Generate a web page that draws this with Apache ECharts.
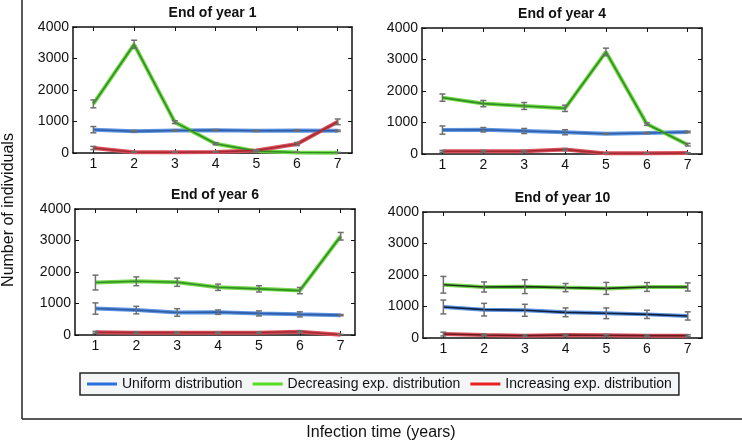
<!DOCTYPE html>
<html>
<head>
<meta charset="utf-8">
<script src="https://cdn.jsdelivr.net/npm/echarts@6/dist/echarts.min.js"></script>
<style>
html,body{margin:0;padding:0;background:#fff;}
#chart{width:742px;height:444px;}
</style>
</head>
<body>
<div id="chart"></div>
<script>
// ---------- data ----------
const categories = [1, 2, 3, 4, 5, 6, 7];
const yTicks = [0, 1000, 2000, 3000, 4000];
const panelTitles = ['End of year 1', 'End of year 4', 'End of year 6', 'End of year 10'];
const seriesNames = ['Uniform distribution', 'Decreasing exp. distribution', 'Increasing exp. distribution'];
const xTitle = 'Infection time (years)';
const yTitle = 'Number of individuals';

// End of year 1
const year1Uniform = [740, 690, 715, 725, 705, 715, 705];
const year1UniformErr = [100, 25, 20, 20, 20, 20, 25];
const year1Decreasing = [1560, 3450, 980, 295, 60, 15, 10];
const year1DecreasingErr = [125, 130, 45, 35, 20, 10, 10];
const year1Increasing = [160, 25, 25, 35, 80, 285, 990];
const year1IncreasingErr = [50, 10, 10, 10, 20, 50, 90];

// End of year 4
const year4Uniform = [760, 770, 730, 690, 645, 665, 700];
const year4UniformErr = [130, 70, 80, 80, 15, 20, 25];
const year4Decreasing = [1790, 1600, 1525, 1450, 3240, 950, 295];
const year4DecreasingErr = [115, 100, 110, 100, 120, 40, 40];
const year4Increasing = [85, 85, 85, 140, 20, 20, 30];
const year4IncreasingErr = [30, 30, 30, 30, 10, 10, 10];

// End of year 6
const year6Uniform = [840, 790, 715, 725, 685, 655, 630];
const year6UniformErr = [180, 120, 120, 70, 80, 80, 20];
const year6Decreasing = [1665, 1705, 1675, 1515, 1465, 1410, 3135];
const year6DecreasingErr = [235, 140, 130, 100, 100, 100, 120];
const year6Increasing = [85, 75, 75, 75, 75, 105, 10];
const year6IncreasingErr = [30, 30, 20, 20, 20, 30, 10];

// End of year 10
const year10Uniform = [985, 900, 880, 815, 785, 750, 700];
const year10UniformErr = [220, 200, 190, 140, 170, 130, 130];
const year10Decreasing = [1690, 1620, 1630, 1600, 1575, 1620, 1620];
const year10DecreasingErr = [265, 160, 220, 130, 190, 140, 130];
const year10Increasing = [125, 95, 75, 95, 85, 75, 75];
const year10IncreasingErr = [60, 30, 30, 30, 30, 30, 30];

// ---------- build ----------
const panels = [
  [[year1Uniform, year1UniformErr], [year1Decreasing, year1DecreasingErr], [year1Increasing, year1IncreasingErr]],
  [[year4Uniform, year4UniformErr], [year4Decreasing, year4DecreasingErr], [year4Increasing, year4IncreasingErr]],
  [[year6Uniform, year6UniformErr], [year6Decreasing, year6DecreasingErr], [year6Increasing, year6IncreasingErr]],
  [[year10Uniform, year10UniformErr], [year10Decreasing, year10DecreasingErr], [year10Increasing, year10IncreasingErr]]
];

const legendColors = ['#2a6fdb', '#55dd22', '#e82020'];
const haloColors = ['#5d95e2', '#74d94a', '#d9505a'];
const innerColors = [
  ['#2f5da8', '#2f8f22', '#a52a34'],
  ['#2f5da8', '#2f8f22', '#a52a34'],
  ['#2f5da8', '#2f8f22', '#a52a34'],
  ['#0f1f3f', '#1d3318', '#6a1a20']
];

const grids = [
  {left: 73, top: 27, width: 279, height: 126},
  {left: 422, top: 28, width: 280, height: 126},
  {left: 75, top: 209, width: 280, height: 126},
  {left: 423, top: 212, width: 279, height: 126}
];

const FONT = '"Liberation Sans", Arial, sans-serif';
const axisLine = {show: true, onZero: false, lineStyle: {color: '#111', width: 1.5}};
const tickStyle = {show: true, inside: true, length: 4, lineStyle: {color: '#111', width: 1}};

const xAxes = [], yAxes = [], series = [], graphics = [];

grids.forEach((g, i) => {
  xAxes.push({
    type: 'value', gridIndex: i, position: 'bottom', min: 0.5, max: 7.35,
    axisLine: axisLine, splitLine: {show: false},
    axisTick: Object.assign({}, tickStyle, {customValues: categories}),
    axisLabel: {customValues: categories, fontSize: 14, color: '#111', margin: 4, fontFamily: FONT,
      formatter: v => String(v)}
  });
  xAxes.push({
    type: 'value', gridIndex: i, position: 'top', min: 0.5, max: 7.35,
    axisLine: axisLine, splitLine: {show: false},
    axisTick: Object.assign({}, tickStyle, {customValues: categories}),
    axisLabel: {show: false}
  });
  yAxes.push({
    type: 'value', gridIndex: i, position: 'left', min: yTicks[0], max: yTicks[yTicks.length - 1], interval: 1000,
    axisLine: axisLine, splitLine: {show: false}, axisTick: tickStyle,
    axisLabel: {fontSize: 14, color: '#111', margin: 4, fontFamily: FONT, formatter: v => String(v)}
  });
  yAxes.push({
    type: 'value', gridIndex: i, position: 'right', min: yTicks[0], max: yTicks[yTicks.length - 1], interval: 1000,
    axisLine: axisLine, splitLine: {show: false}, axisTick: tickStyle,
    axisLabel: {show: false}
  });

  panels[i].forEach((pair, k) => {
    const vals = pair[0], errs = pair[1];
    const pts = categories.map((c, j) => [c, vals[j]]);
    series.push({
      type: 'line', name: seriesNames[k], xAxisIndex: 2 * i, yAxisIndex: 2 * i,
      data: pts, showSymbol: false, symbol: 'none', silent: true, z: 2,
      lineStyle: {color: haloColors[k], width: 4},
      itemStyle: {color: legendColors[k]}
    });
    series.push({
      type: 'line', name: seriesNames[k] + ' inner', xAxisIndex: 2 * i, yAxisIndex: 2 * i,
      data: pts, showSymbol: false, symbol: 'none', silent: true, z: 3,
      lineStyle: {color: innerColors[i][k], width: 1.6}
    });
    series.push({
      type: 'custom', name: seriesNames[k] + ' err', xAxisIndex: 2 * i, yAxisIndex: 2 * i,
      clip: true, silent: true, z: 4,
      data: categories.map((c, j) => [c, vals[j] - errs[j], vals[j] + errs[j]]),
      renderItem: function (params, api) {
        const x = api.value(0);
        const p1 = api.coord([x, api.value(1)]);
        const p2 = api.coord([x, api.value(2)]);
        const w = 3;
        const st = {stroke: '#6f6f6f', lineWidth: 1.5};
        return {
          type: 'group', children: [
            {type: 'line', shape: {x1: p1[0], y1: p1[1], x2: p2[0], y2: p2[1]}, style: st},
            {type: 'line', shape: {x1: p1[0] - w, y1: p1[1], x2: p1[0] + w, y2: p1[1]}, style: st},
            {type: 'line', shape: {x1: p2[0] - w, y1: p2[1], x2: p2[0] + w, y2: p2[1]}, style: st}
          ]
        };
      }
    });
  });

  graphics.push({
    type: 'text', x: g.left + g.width / 2, y: g.top - 14,
    style: {text: panelTitles[i], align: 'center', verticalAlign: 'middle',
      fontSize: 14, fontWeight: 'bold', fontFamily: FONT, fill: '#111'}
  });
});

// outer frame and axis titles
graphics.push({type: 'line', shape: {x1: 22, y1: 0, x2: 22, y2: 419}, style: {stroke: '#222', lineWidth: 1.5}});
graphics.push({type: 'line', shape: {x1: 22, y1: 419, x2: 742, y2: 419}, style: {stroke: '#222', lineWidth: 1.5}});
graphics.push({
  type: 'text', x: 381, y: 433,
  style: {text: xTitle, align: 'center', verticalAlign: 'middle', fontSize: 16, fontFamily: FONT, fill: '#111'}
});
graphics.push({
  type: 'text', x: 9, y: 210, rotation: Math.PI / 2,
  style: {text: yTitle, align: 'center', verticalAlign: 'middle', fontSize: 16, fontFamily: FONT, fill: '#111'}
});

const option = {
  backgroundColor: '#fff',
  animation: false,
  grid: grids,
  xAxis: xAxes,
  yAxis: yAxes,
  series: series,
  legend: {
    data: seriesNames.map((n, k) => ({name: n, itemStyle: {color: legendColors[k]}})),
    left: 80, top: 373,
    icon: 'rect', itemWidth: 30, itemHeight: 3, itemGap: 10,
    padding: [4, 7],
    backgroundColor: '#f3f5f7', borderColor: '#222', borderWidth: 1.5,
    textStyle: {fontSize: 14, color: '#111', fontFamily: FONT},
    selectedMode: false
  },
  graphic: graphics
};

const chart = echarts.init(document.getElementById('chart'), null, {renderer: 'canvas'});
chart.setOption(option);
</script>
</body>
</html>
